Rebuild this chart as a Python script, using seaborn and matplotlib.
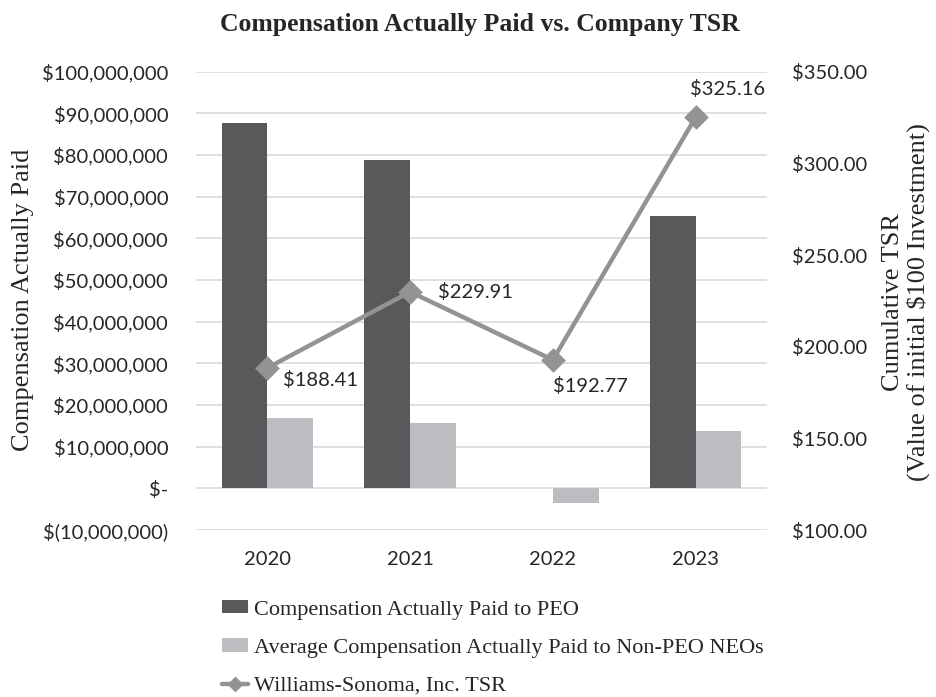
import matplotlib
matplotlib.use("Agg")
import matplotlib.pyplot as plt
import matplotlib.ticker as mticker
from matplotlib.lines import Line2D
from matplotlib.patches import Patch
import pandas as pd
import seaborn as sns

# ---- data ----
years = ["2020", "2021", "2022", "2023"]
peo_cap = [87_600_000, 78_700_000, 0, 65_300_000]
non_peo_cap = [17_000_000, 15_800_000, -3_600_000, 13_700_000]
tsr = [188.41, 229.91, 192.77, 325.16]

peo_label = "Compensation Actually Paid to PEO"
neo_label = "Average Compensation Actually Paid to Non-PEO NEOs"
tsr_label = "Williams-Sonoma, Inc. TSR"

left_ticks = list(range(-10_000_000, 100_000_001, 10_000_000))
right_ticks = [100, 150, 200, 250, 300, 350]

# ---- styling ----
dark = "#58595B"
light = "#BCBDC0"
line_gray = "#939393"
grid_gray = "#D9D9D9"
text_color = "#262626"
serif = "Liberation Serif"
sans = "Lato"
tick_size = 14.5

sns.set_theme(style="white")
plt.rcParams["font.family"] = [sans, "DejaVu Sans"]

fig = plt.figure(figsize=(9.36, 6.97), dpi=100)
ax = fig.add_axes([196 / 936, 1 - 530 / 697, (767 - 196) / 936, (530 - 71.7) / 697])

df = pd.DataFrame({
    "year": years * 2,
    "value": peo_cap + non_peo_cap,
    "series": [peo_label] * len(years) + [neo_label] * len(years),
})

sns.barplot(data=df, x="year", y="value", hue="series", order=years,
            hue_order=[peo_label, neo_label], palette=[dark, light],
            width=0.64, gap=0, saturation=1, ax=ax, legend=False,
            edgecolor="none", linewidth=0, zorder=2)

ax.set_ylim(left_ticks[0], left_ticks[-1])
ax.set_xlim(-0.5, len(years) - 0.5)
ax.set_yticks(left_ticks)


def money_fmt(v, _pos):
    if abs(v) < 1:
        return "$-"
    if v < 0:
        return "$({:,.0f})".format(-v)
    return "${:,.0f}".format(v)


ax.yaxis.set_major_formatter(mticker.FuncFormatter(money_fmt))
ax.grid(axis="y", color=grid_gray, linewidth=1.2, zorder=0)
ax.set_axisbelow(True)
for s in ax.spines.values():
    s.set_visible(False)
ax.tick_params(axis="y", length=0, pad=20, labelsize=tick_size, labelcolor=text_color)
ax.tick_params(axis="x", length=0, pad=15, labelsize=tick_size, labelcolor=text_color)
ax.set_xlabel("")
ax.set_ylabel("")

# ---- TSR line on the secondary axis ----
ax2 = ax.twinx()
tsr_df = pd.DataFrame({"year": years, "tsr": tsr})
sns.pointplot(data=tsr_df, x="year", y="tsr", order=years, color=line_gray,
              markers="D", markersize=10, linewidth=3.2, ax=ax2, zorder=3)
ax2.set_ylim(right_ticks[0], right_ticks[-1])
ax2.set_yticks(right_ticks)
ax2.yaxis.set_major_formatter(mticker.FuncFormatter(lambda v, p: "${:,.2f}".format(v)))
ax2.tick_params(axis="y", length=0, pad=18, labelsize=tick_size, labelcolor=text_color)
ax2.set_xlim(-0.5, len(years) - 0.5)
ax2.set_ylabel("")
ax2.set_xlabel("")
ax2.grid(False)
for s in ax2.spines.values():
    s.set_visible(False)

# value labels beside each TSR point
offsets = [(11, -9), (20, 0), (0, -19), (-4, 20)]
for i, (val, (dx, dy)) in enumerate(zip(tsr, offsets)):
    ax2.annotate("${:,.2f}".format(val), xy=(i, val), xytext=(dx, dy),
                 textcoords="offset points", ha="left", va="center",
                 fontsize=tick_size, color=text_color)

# ---- titles and axis names ----
fig.text(480 / 936, 1 - 25 / 697, "Compensation Actually Paid vs. Company TSR",
         ha="center", va="center", fontsize=18.5, fontweight="bold",
         family=serif, color=text_color)
fig.text(23 / 936, 1 - 300 / 697, "Compensation Actually Paid", rotation=90,
         ha="center", va="center", fontsize=19, family=serif, color=text_color)
fig.text(906 / 936, 1 - 302 / 697, "Cumulative TSR\n(Value of initial $100 Investment)",
         rotation=90, ha="center", va="center", fontsize=19, family=serif,
         color=text_color, linespacing=1.12, multialignment="center")

# ---- legend ----
handles = [
    Patch(facecolor=dark, edgecolor="none"),
    Patch(facecolor=light, edgecolor="none"),
    Line2D([], [], color=line_gray, linewidth=3.2, marker="D", markersize=7),
]
fig.legend(handles, [peo_label, neo_label, tsr_label],
           loc="upper left", bbox_to_anchor=(222 / 936, 1 - 600 / 697),
           frameon=False, prop={"family": serif, "size": 16},
           handlelength=1.15, handleheight=0.55, handletextpad=0.27,
           labelspacing=0.84, labelcolor=text_color, borderaxespad=0,
           borderpad=0)

fig.savefig("out.png", dpi=100)
